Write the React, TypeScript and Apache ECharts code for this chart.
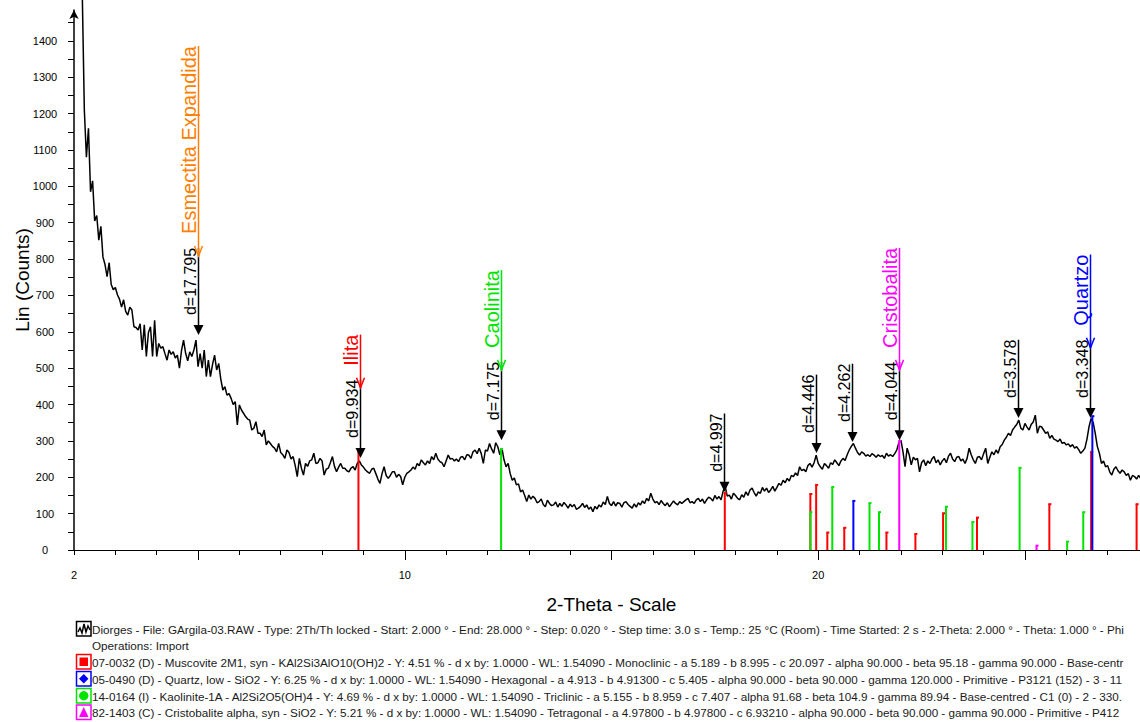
import React, { useEffect, useRef } from 'react';
import * as echarts from 'echarts';

// ---- scan (2-Theta from 2.00 to 28.00, step 0.05) ----
const SCAN_START = 2;
const SCAN_STEP = 0.05;
const counts2 = [4200, 3400, 2700, 2100, 1530, 1210, 1080, 1160, 985, 1015, 905, 920, 852, 890, 806, 785, 752, 790, 730, 716];
const counts3 = [722, 702, 690, 668, 688, 656, 646, 668, 660, 614, 612, 605, 622, 550, 619, 532, 598, 614, 532, 632];
const counts4 = [532, 568, 555, 559, 540, 522, 550, 538, 545, 528, 536, 500, 548, 577, 541, 520, 545, 532, 550, 577];
const counts5 = [504, 540, 500, 550, 477, 522, 477, 510, 536, 495, 513, 470, 440, 449, 426, 430, 417, 400, 408, 344];
const counts6 = [399, 385, 376, 367, 360, 357, 330, 335, 353, 321, 321, 312, 330, 289, 300, 293, 285, 280, 270, 293];
const counts7 = [268, 262, 252, 275, 268, 250, 257, 232, 202, 252, 225, 206, 238, 230, 245, 248, 266, 238, 240, 252];
const counts8 = [245, 206, 222, 225, 240, 257, 230, 215, 228, 238, 225, 225, 218, 215, 225, 229, 220, 238, 245, 234];
const counts9 = [228, 220, 215, 211, 222, 225, 210, 195, 183, 210, 229, 205, 197, 205, 215, 215, 200, 208, 202, 179];
const counts10 = [200, 211, 215, 220, 228, 222, 238, 232, 248, 240, 234, 245, 238, 257, 248, 266, 250, 243, 240, 229];
const counts11 = [245, 261, 250, 252, 245, 250, 243, 255, 257, 248, 262, 261, 252, 270, 275, 265, 280, 265, 238, 275];
const counts12 = [272, 293, 278, 266, 295, 284, 262, 280, 248, 229, 238, 210, 192, 198, 179, 182, 160, 165, 150, 133];
const counts13 = [151, 140, 148, 142, 130, 133, 140, 125, 119, 137, 128, 122, 124, 132, 118, 128, 120, 131, 124, 115];
const counts14 = [126, 119, 125, 112, 115, 120, 128, 117, 124, 112, 118, 105, 120, 113, 124, 118, 132, 125, 147, 128];
const counts15 = [122, 133, 121, 130, 128, 118, 130, 133, 125, 120, 115, 127, 118, 130, 124, 135, 128, 142, 135, 156];
const counts16 = [140, 130, 133, 125, 136, 128, 122, 130, 119, 127, 135, 128, 124, 133, 128, 133, 138, 142, 130, 133];
const counts17 = [128, 138, 142, 133, 140, 128, 138, 145, 142, 135, 150, 140, 147, 138, 162, 174, 148, 151, 140, 156];
const counts18 = [150, 142, 138, 152, 145, 160, 150, 165, 170, 158, 148, 160, 156, 172, 162, 170, 158, 165, 175, 162];
const counts19 = [172, 183, 178, 192, 185, 197, 190, 205, 202, 212, 205, 229, 218, 222, 215, 232, 238, 228, 240, 261];
const counts20 = [238, 229, 222, 238, 232, 225, 240, 235, 248, 240, 232, 245, 252, 246, 262, 275, 285, 293, 280, 268];
const counts21 = [261, 270, 266, 258, 262, 257, 265, 261, 255, 262, 257, 260, 252, 266, 258, 262, 257, 265, 275, 295];
const counts22 = [302, 270, 229, 280, 262, 234, 255, 248, 252, 215, 240, 248, 232, 245, 238, 250, 257, 240, 248, 234];
const counts23 = [245, 252, 240, 258, 266, 250, 243, 255, 257, 245, 250, 238, 252, 280, 262, 248, 238, 255, 257, 248];
const counts24 = [265, 280, 238, 255, 270, 262, 275, 266, 284, 290, 302, 310, 321, 315, 330, 338, 345, 357, 335, 330];
const counts25 = [348, 338, 330, 345, 352, 371, 321, 340, 339, 330, 321, 325, 307, 315, 305, 302, 298, 305, 293, 296];
const counts26 = [289, 292, 284, 290, 280, 284, 276, 266, 272, 280, 305, 339, 362, 350, 321, 285, 266, 238, 245, 229];
const counts27 = [232, 215, 206, 222, 229, 218, 211, 220, 215, 205, 210, 192, 205, 202, 195, 205, 197, 200, 192, 198];
const counts28 = [190];

const counts = [
  ...counts2, ...counts3, ...counts4, ...counts5, ...counts6, ...counts7, ...counts8, ...counts9,
  ...counts10, ...counts11, ...counts12, ...counts13, ...counts14, ...counts15, ...counts16, ...counts17,
  ...counts18, ...counts19, ...counts20, ...counts21, ...counts22, ...counts23, ...counts24, ...counts25,
  ...counts26, ...counts27, ...counts28,
];

// ---- reference patterns (2-Theta, stick height in counts) ----
const muscoviteSticks = [[8.88, 270], [17.74, 157], [19.81, 154], [19.95, 179], [20.22, 48], [20.63, 61], [21.65, 48], [22.35, 44], [23.02, 101], [23.84, 89], [25.59, 126], [26.6, 270], [27.7, 126]];
const quartzSticks = [[20.85, 135], [26.63, 368]];
const kaoliniteSticks = [[12.33, 278], [19.81, 104], [20.34, 173], [21.24, 129], [21.47, 104], [23.09, 119], [23.73, 77], [24.87, 226], [26.02, 23], [26.41, 104]];
const cristobaliteSticks = [[21.96, 300], [25.28, 12]];

// ---- peak labels ----
const dPeakTheta = [4.99, 8.92, 12.33, 17.73, 19.95, 20.82, 21.96, 24.84, 26.58];
const dPeakTip = [591, 253, 302, 160, 267, 297, 302, 363, 363];
const dPeakLabel = ['d=17.795', 'd=9.934', 'd=7.175', 'd=4.997', 'd=4.446', 'd=4.262', 'd=4.044', 'd=3.578', 'd=3.348'];
const phaseLabel = ['Esmectita Expandida', 'Ilita', 'Caolinita', 'Cristobalita', 'Quartzo'];
const phasePeak = [0, 1, 2, 6, 8];
const phaseColor = ['#ff8000', '#ff0000', '#00e400', '#ff00ff', '#0000ff'];

// ---- axes ----
const xTickMinor = [2, 3, 4, 5, 6, 7, 8, 9, 10, 11, 12, 13, 14, 15, 16, 17, 18, 19, 20, 21, 22, 23, 24, 25, 26, 27, 28];
const xTickMajor = [5, 10, 15, 20, 25];
const xLabels = [2, 10, 20];
const yTicks = [0, 50, 100, 150, 200, 250, 300, 350, 400, 450, 500, 550, 600, 650, 700, 750, 800, 850, 900, 950, 1000, 1050, 1100, 1150, 1200, 1250, 1300, 1350, 1400, 1450];
const yLabels = [0, 100, 200, 300, 400, 500, 600, 700, 800, 900, 1000, 1100, 1200, 1300, 1400];

// ---- legend ----
const legendTexts = [
  'Diorges - File: GArgila-03.RAW - Type: 2Th/Th locked - Start: 2.000 ° - End: 28.000 ° - Step: 0.020 ° - Step time: 3.0 s - Temp.: 25 °C (Room) - Time Started: 2 s - 2-Theta: 2.000 ° - Theta: 1.000 ° - Phi',
  'Operations: Import',
  '07-0032 (D) - Muscovite 2M1, syn - KAl2Si3AlO10(OH)2 - Y: 4.51 % - d x by: 1.0000 - WL: 1.54090 - Monoclinic - a 5.189 - b 8.995 - c 20.097 - alpha 90.000 - beta 95.18 - gamma 90.000 - Base-centr',
  '05-0490 (D) - Quartz, low - SiO2 - Y: 6.25 % - d x by: 1.0000 - WL: 1.54090 - Hexagonal - a 4.913 - b 4.91300 - c 5.405 - alpha 90.000 - beta 90.000 - gamma 120.000 - Primitive - P3121 (152) - 3 - 11',
  '14-0164 (I) - Kaolinite-1A - Al2Si2O5(OH)4 - Y: 4.69 % - d x by: 1.0000 - WL: 1.54090 - Triclinic - a 5.155 - b 8.959 - c 7.407 - alpha 91.68 - beta 104.9 - gamma 89.94 - Base-centred - C1 (0) - 2 - 330.',
  '82-1403 (C) - Cristobalite alpha, syn - SiO2 - Y: 5.21 % - d x by: 1.0000 - WL: 1.54090 - Tetragonal - a 4.97800 - b 4.97800 - c 6.93210 - alpha 90.000 - beta 90.000 - gamma 90.000 - Primitive - P412',
];
const legendIcons = ['scan', 'none', 'square', 'diamond', 'circle', 'triangle'];
const legendColors = ['#000000', '#000000', '#ff0000', '#0000ff', '#00e400', '#ff00ff'];

const FONT = '"Liberation Sans", Arial, sans-serif';
const D_FONT = `16px ${FONT}`;
const P_FONT = `20px ${FONT}`;

let measureCtx: CanvasRenderingContext2D | null = null;
function textWidth(text: string, font: string): number {
  if (!measureCtx) measureCtx = document.createElement('canvas').getContext('2d');
  if (!measureCtx) return text.length * 8;
  measureCtx.font = font;
  return measureCtx.measureText(text).width;
}

function stickSeries(name: string, data: number[][], color: string) {
  return {
    type: 'custom',
    name,
    data,
    z: 4,
    silent: true,
    encode: { x: 0, y: 1 },
    renderItem: (_params: any, api: any) => {
      const base = api.coord([api.value(0), 0]);
      const top = api.coord([api.value(0), api.value(1)]);
      return {
        type: 'group',
        children: [
          { type: 'line', shape: { x1: base[0], y1: base[1], x2: top[0], y2: top[1] }, style: { stroke: color, lineWidth: 2 } },
          { type: 'rect', shape: { x: top[0] - 1, y: top[1] - 1, width: 3, height: 2 }, style: { fill: color } },
        ],
      };
    },
  };
}

function legendGraphics() {
  const rows = [629, 645.5, 662, 679, 696, 712.5];
  const els: any[] = [];
  legendTexts.forEach((t, i) => {
    const cy = rows[i];
    els.push({
      type: 'text', x: 92, y: cy,
      style: { text: t, font: `11.7px ${FONT}`, fill: '#1a1a1a', verticalAlign: 'middle', align: 'left' },
    });
    const icon = legendIcons[i];
    const c = legendColors[i];
    if (icon === 'none') return;
    els.push({ type: 'rect', shape: { x: 76.5, y: cy - 7.5, width: 14.5, height: 14.5 }, style: { fill: 'none', stroke: c, lineWidth: 1.5 } });
    if (icon === 'scan') {
      els.push({ type: 'polyline', shape: { points: [[78, cy + 3], [80, cy - 1], [82, cy + 4], [84, cy - 5], [86, cy + 3], [88, cy - 3], [90, cy + 1]] }, style: { stroke: '#000', lineWidth: 1.5, fill: 'none' } });
    } else if (icon === 'square') {
      els.push({ type: 'rect', shape: { x: 79.5, y: cy - 4.5, width: 8.5, height: 8.5 }, style: { fill: c } });
    } else if (icon === 'diamond') {
      els.push({ type: 'polygon', shape: { points: [[83.75, cy - 5], [88.5, cy - 0.25], [83.75, cy + 4.5], [79, cy - 0.25]] }, style: { fill: c } });
    } else if (icon === 'circle') {
      els.push({ type: 'circle', shape: { cx: 83.75, cy: cy - 0.25, r: 4.7 }, style: { fill: c } });
    } else if (icon === 'triangle') {
      els.push({ type: 'polygon', shape: { points: [[83.75, cy - 5.5], [88.5, cy + 4.5], [79, cy + 4.5]] }, style: { fill: c } });
    }
  });
  return els;
}

export default function App() {
  const ref = useRef<HTMLDivElement>(null);
  useEffect(() => {
    if (!ref.current) return;
    document.body.style.overflow = 'hidden';
    const chart = echarts.init(ref.current, undefined, { renderer: 'svg' });
    const scan = counts.map((v, i) => [Number((SCAN_START + i * SCAN_STEP).toFixed(2)), v]);
    const annData = dPeakTheta.map((t, i) => [t, dPeakTip[i], i]);

    chart.setOption({
      animation: false,
      backgroundColor: '#ffffff',
      textStyle: { fontFamily: FONT },
      grid: { left: 74, top: 10, right: 0, bottom: 172, containLabel: false, outerBoundsMode: 'none' },
      xAxis: [
        {
          type: 'value', min: 2, max: 28, position: 'bottom',
          name: '2-Theta - Scale', nameLocation: 'middle', nameGap: 45, nameMoveOverlap: false,
          nameTextStyle: { fontSize: 19, color: '#000', fontFamily: FONT },
          axisLine: { show: true, lineStyle: { color: '#000', width: 1 } },
          axisTick: { show: true, customValues: xTickMinor, length: 5, lineStyle: { color: '#000' } },
          axisLabel: { customValues: xLabels, fontSize: 11, color: '#000', margin: 19, fontFamily: FONT, formatter: (v: number) => String(v) },
          splitLine: { show: false },
        },
        {
          type: 'value', min: 2, max: 28, position: 'bottom',
          axisLine: { show: false },
          axisTick: { show: true, customValues: xTickMajor, length: 10, lineStyle: { color: '#000' } },
          axisLabel: { show: false },
          splitLine: { show: false },
        },
      ],
      yAxis: {
        type: 'value', min: 0, max: 1485,
        name: 'Lin (Counts)', nameLocation: 'middle', nameGap: 42, nameMoveOverlap: false,
        nameTextStyle: { fontSize: 19, color: '#000', fontFamily: FONT },
        axisLine: { show: true, lineStyle: { color: '#000', width: 1.5 }, symbol: ['none', 'arrow'], symbolSize: [7, 9] },
        axisTick: { show: true, customValues: yTicks, length: 6, lineStyle: { color: '#000' } },
        axisLabel: { customValues: yLabels, fontSize: 11, color: '#000', align: 'center', margin: 29, fontFamily: FONT, formatter: (v: number) => String(v) },
        splitLine: { show: false },
      },
      series: [
        {
          type: 'line', name: 'scan', data: scan, showSymbol: false, symbol: 'none', clip: false,
          lineStyle: { color: '#000', width: 1.5 }, z: 3, silent: true,
        },
        stickSeries('Muscovite', muscoviteSticks, '#ff0000'),
        stickSeries('Quartz', quartzSticks, '#0000ff'),
        stickSeries('Kaolinite', kaoliniteSticks, '#00e400'),
        stickSeries('Cristobalite', cristobaliteSticks, '#ff00ff'),
        {
          type: 'custom', name: 'labels', data: annData, z: 6, silent: true,
          encode: { x: 0, y: 1 },
          renderItem: (_params: any, api: any) => {
            const i = api.value(2);
            const pt = api.coord([api.value(0), api.value(1)]);
            const x = Math.round(pt[0]) + 0.5;
            const y = pt[1];
            const label = dPeakLabel[i];
            const len = textWidth(label, D_FONT) + 20;
            const top = y - len;
            const children: any[] = [
              { type: 'line', shape: { x1: x, y1: top, x2: x, y2: y - 9 }, style: { stroke: '#000', lineWidth: 1.5 } },
              { type: 'polygon', shape: { points: [[x - 5, y - 10], [x + 5, y - 10], [x, y]] }, style: { fill: '#000' } },
              { type: 'text', x: x, y: top, rotation: Math.PI / 2, style: { text: label, font: D_FONT, fill: '#000', align: 'right', verticalAlign: 'bottom' } },
            ];
            const p = phasePeak.indexOf(i);
            if (p >= 0) {
              const color = phaseColor[p];
              const tipY = top + 8;
              const plen = textWidth(phaseLabel[p], P_FONT) + 22;
              const ptop = tipY - plen;
              children.push(
                { type: 'line', shape: { x1: x, y1: ptop, x2: x, y2: tipY }, style: { stroke: color, lineWidth: 1.5 } },
                { type: 'polyline', shape: { points: [[x - 4, tipY - 10], [x, tipY], [x + 4, tipY - 10]] }, style: { stroke: color, lineWidth: 1.5, fill: 'none' } },
                { type: 'text', x: x, y: ptop, rotation: Math.PI / 2, style: { text: phaseLabel[p], font: P_FONT, fill: color, align: 'right', verticalAlign: 'bottom' } },
              );
            }
            return { type: 'group', children };
          },
        },
      ],
      graphic: legendGraphics(),
    });
    return () => chart.dispose();
  }, []);
  return <div ref={ref} style={{ position: 'fixed', left: 0, top: 0, width: 1149, height: 722, background: '#fff' }} />;
}
